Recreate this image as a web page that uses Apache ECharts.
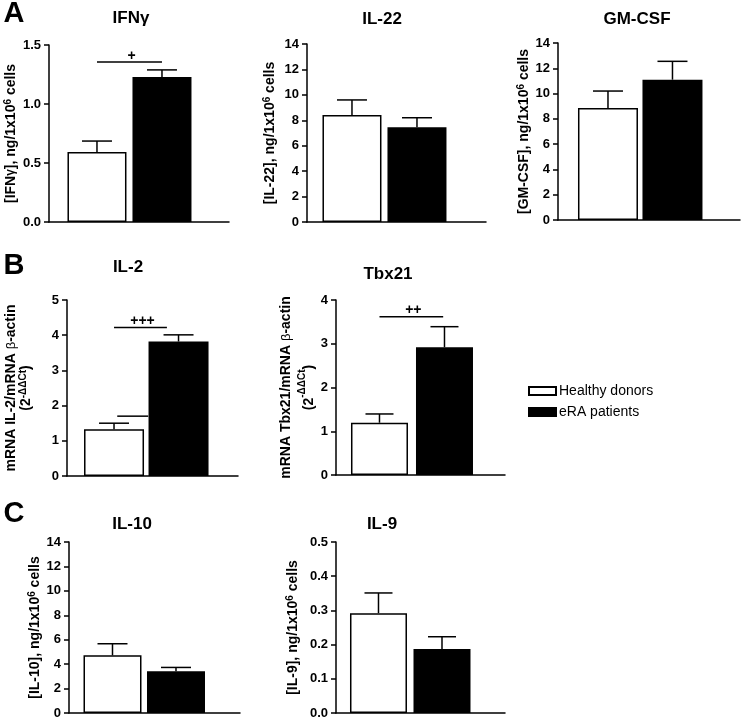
<!DOCTYPE html>
<html>
<head>
<meta charset="utf-8">
<script src="https://cdn.jsdelivr.net/npm/echarts@6/dist/echarts.min.js"></script>
<style>
html,body{margin:0;padding:0;background:#fff;}
#chart{width:742px;height:719px;}
</style>
</head>
<body>
<div id="chart"></div>
<script>
// ---------- data ----------
const groups = ['Healthy donors', 'eRA patients'];
const panelTitles = ['IFNγ', 'IL-22', 'GM-CSF', 'IL-2', 'Tbx21', 'IL-10', 'IL-9'];
const panelLetters = ['A', 'B', 'C'];

const ifngMean = [0.593, 1.229];   const ifngSem = [0.093, 0.060];
const il22Mean = [8.42, 7.45];     const il22Sem = [1.18, 0.75];
const gmcsfMean = [8.86, 11.10];   const gmcsfSem = [1.34, 1.45];
const il2Mean = [1.33, 3.82];      const il2Sem = [0.17, 0.19];
const tbx21Mean = [1.195, 2.92];   const tbx21Sem = [0.20, 0.47];
const il10Mean = [4.72, 3.41];     const il10Sem = [0.95, 0.32];
const il9Mean = [0.292, 0.187];    const il9Sem = [0.059, 0.036];

// y axis tick ranges (max, step)
const yMax = [1.5, 14, 14, 5, 4, 14, 0.5];
const yStep = [0.5, 2, 2, 1, 1, 2, 0.1];
const yDecimals = [1, 0, 0, 0, 0, 0, 1];

// significance marks: [from group, to group, level], label
const ifngSig = [[0, 1, 1.356]];       const ifngSigLabel = ['+'];
const il2Sig = [[0, 0.82, 4.22], [0.05, 0.53, 1.70]]; const il2SigLabel = ['+++', ''];
const tbx21Sig = [[0, 0.98, 3.62]];    const tbx21SigLabel = ['++'];

const yNames = [
  '{b|[IFN}{g|γ}{b|], ng/1x10}{s|6}{b| cells}',
  '{b|[IL-22], ng/1x10}{s|6}{b| cells}',
  '{b|[GM-CSF], ng/1x10}{s|6}{b| cells}',
  '{b|mRNA IL-2/mRNA }{n|β}{b|-actin}\n{b|(2}{s|-ΔΔCt}{b|)}',
  '{b|mRNA Tbx21/mRNA }{n|β}{b|-actin}\n{b|(2}{s|-ΔΔCt}{b|)}',
  '{b|[IL-10], ng/1x10}{s|6}{b| cells}',
  '{b|[IL-9], ng/1x10}{s|6}{b| cells}'
];

const means = [ifngMean, il22Mean, gmcsfMean, il2Mean, tbx21Mean, il10Mean, il9Mean];
const sems = [ifngSem, il22Sem, gmcsfSem, il2Sem, tbx21Sem, il10Sem, il9Sem];
const sigs = [ifngSig, null, null, il2Sig, tbx21Sig, null, null];
const sigLabels = [ifngSigLabel, null, null, il2SigLabel, tbx21SigLabel, null, null];

// ---------- layout ----------
const layout = [
  {left:49,  top:45,  width:180, height:177, xmin:-0.738, xmax:2.031, barW:59, gap:30,   lh:16, tx:131, ty:18},
  {left:307, top:44,  width:179, height:178, xmin:-0.692, xmax:2.062, barW:59, gap:29,   lh:16, tx:382, ty:19},
  {left:558, top:43,  width:182, height:177, xmin:-0.775, xmax:2.047, barW:60, gap:25,   lh:16, tx:637, ty:19},
  {left:67,  top:300, width:171, height:176, xmin:-0.729, xmax:1.922, barW:60, gap:33.5, lh:15, tx:128, ty:267},
  {left:336, top:300, width:169, height:175, xmin:-0.669, xmax:1.931, barW:57, gap:15.5, lh:23, tx:388, ty:274},
  {left:69,  top:542, width:171, height:171, xmin:-0.685, xmax:2.008, barW:58, gap:26,   lh:16, tx:132, ty:524},
  {left:336, top:542, width:169, height:171, xmin:-0.669, xmax:1.992, barW:57, gap:34.5, lh:16, tx:382, ty:524}
];
const letterPos = [[14, 14], [14, 266], [14, 514]];
const FONT = '"Liberation Sans", Arial, Helvetica, sans-serif';
const LW = 1.5;

const grids = [], xAxes = [], yAxes = [], series = [], graphics = [];

layout.forEach((L, p) => {
  grids.push({left:L.left, top:L.top, width:L.width, height:L.height, containLabel:false, outerBoundsMode:'none'});
  xAxes.push({
    type:'value', gridIndex:p, min:L.xmin, max:L.xmax,
    axisLine:{show:true, onZero:false, lineStyle:{color:'#000', width:LW}},
    axisTick:{show:false}, axisLabel:{show:false}, splitLine:{show:false}
  });
  const dec = yDecimals[p];
  yAxes.push({
    type:'value', gridIndex:p, min:0, max:yMax[p], interval:yStep[p],
    axisLine:{show:true, onZero:false, lineStyle:{color:'#000', width:LW}},
    axisTick:{show:true, length:5, lineStyle:{color:'#000', width:LW}},
    axisLabel:{color:'#000', fontFamily:FONT, fontWeight:'bold', fontSize:13, margin:8,
      formatter: v => Number(v).toFixed(dec)},
    splitLine:{show:false},
    name: yNames[p], nameLocation:'middle', nameRotate:90, nameGap:L.gap,
    nameTextStyle:{
      color:'#000', fontFamily:FONT, align:'center',
      rich:{
        b:{fontSize:14, fontWeight:'bold', fontFamily:FONT, color:'#000', lineHeight:L.lh},
        g:{fontSize:12, fontWeight:'bold', fontFamily:FONT, color:'#000', lineHeight:L.lh},
        n:{fontSize:13, fontWeight:'normal', fontFamily:FONT, color:'#000', lineHeight:L.lh},
        s:{fontSize:10, fontWeight:'bold', fontFamily:FONT, color:'#000', verticalAlign:'top', lineHeight:L.lh}
      }
    }
  });

  const m = means[p], s = sems[p];
  series.push({
    name: groups[0], type:'bar', xAxisIndex:p, yAxisIndex:p,
    barWidth:L.barW, barGap:'-100%',
    data:[[0, m[0]]],
    itemStyle:{color:'#fff', borderColor:'#000', borderWidth:LW},
    emphasis:{disabled:true}, silent:true, z:2
  });
  series.push({
    name: groups[1], type:'bar', xAxisIndex:p, yAxisIndex:p,
    barWidth:L.barW, barGap:'-100%',
    data:[[1, m[1]]],
    itemStyle:{color:'#000', borderColor:'#000', borderWidth:LW},
    emphasis:{disabled:true}, silent:true, z:2
  });
  const capHalf = Math.round(L.barW / 4);
  series.push({
    type:'custom', xAxisIndex:p, yAxisIndex:p, silent:true, z:5,
    data: groups.map((g, i) => [i, m[i], s[i]]),
    renderItem: (params, api) => {
      const x = api.value(0), mv = api.value(1), sv = api.value(2);
      const a = api.coord([x, mv]), b = api.coord([x, mv + sv]);
      const st = {stroke:'#000', lineWidth:LW, fill:null};
      return {type:'group', children:[
        {type:'line', shape:{x1:a[0], y1:a[1], x2:b[0], y2:b[1]}, style:st},
        {type:'line', shape:{x1:b[0]-capHalf, y1:b[1], x2:b[0]+capHalf, y2:b[1]}, style:st}
      ]};
    }
  });
  if (sigs[p]) {
    const labels = sigLabels[p];
    series.push({
      type:'custom', xAxisIndex:p, yAxisIndex:p, silent:true, z:5,
      data: sigs[p],
      renderItem: (params, api) => {
        const x0 = api.value(0), x1 = api.value(1), y = api.value(2);
        const a = api.coord([x0, y]), b = api.coord([x1, y]);
        const children = [
          {type:'line', shape:{x1:a[0], y1:a[1], x2:b[0], y2:b[1]}, style:{stroke:'#000', lineWidth:LW}}
        ];
        const lab = labels[params.dataIndex];
        if (lab) {
          children.push({type:'text', style:{
            text: lab, x:(a[0]+b[0])/2 + 2, y:a[1]-6, textAlign:'center', textVerticalAlign:'middle',
            fontFamily:FONT, fontWeight:'bold', fontSize:14, fill:'#000'
          }});
        }
        return {type:'group', children};
      }
    });
  }

  graphics.push({
    type:'text', x:L.tx, y:L.ty,
    style:{text:panelTitles[p], x:0, y:0, textAlign:'center', textVerticalAlign:'middle',
      fontFamily:FONT, fontWeight:'bold', fontSize:17, fill:'#000'}
  });
});

panelLetters.forEach((t, i) => {
  graphics.push({
    type:'text', x:letterPos[i][0], y:letterPos[i][1],
    style:{text:t, x:0, y:0, textAlign:'center', textVerticalAlign:'middle',
      fontFamily:FONT, fontWeight:'bold', fontSize:29, fill:'#000'}
  });
});

const chart = echarts.init(document.getElementById('chart'), null, {renderer:'canvas'});
chart.setOption({
  backgroundColor:'#fff',
  animation:false,
  grid: grids,
  xAxis: xAxes,
  yAxis: yAxes,
  series: series,
  legend:{
    data: groups, orient:'vertical', left:528, top:384, padding:0,
    itemWidth:27, itemHeight:8, itemGap:7, selectedMode:false, icon:'rect',
    textStyle:{color:'#000', fontFamily:FONT, fontSize:14, padding:[0,0,0,-2]}
  },
  tooltip:{show:false},
  graphic: graphics
});
</script>
</body>
</html>
